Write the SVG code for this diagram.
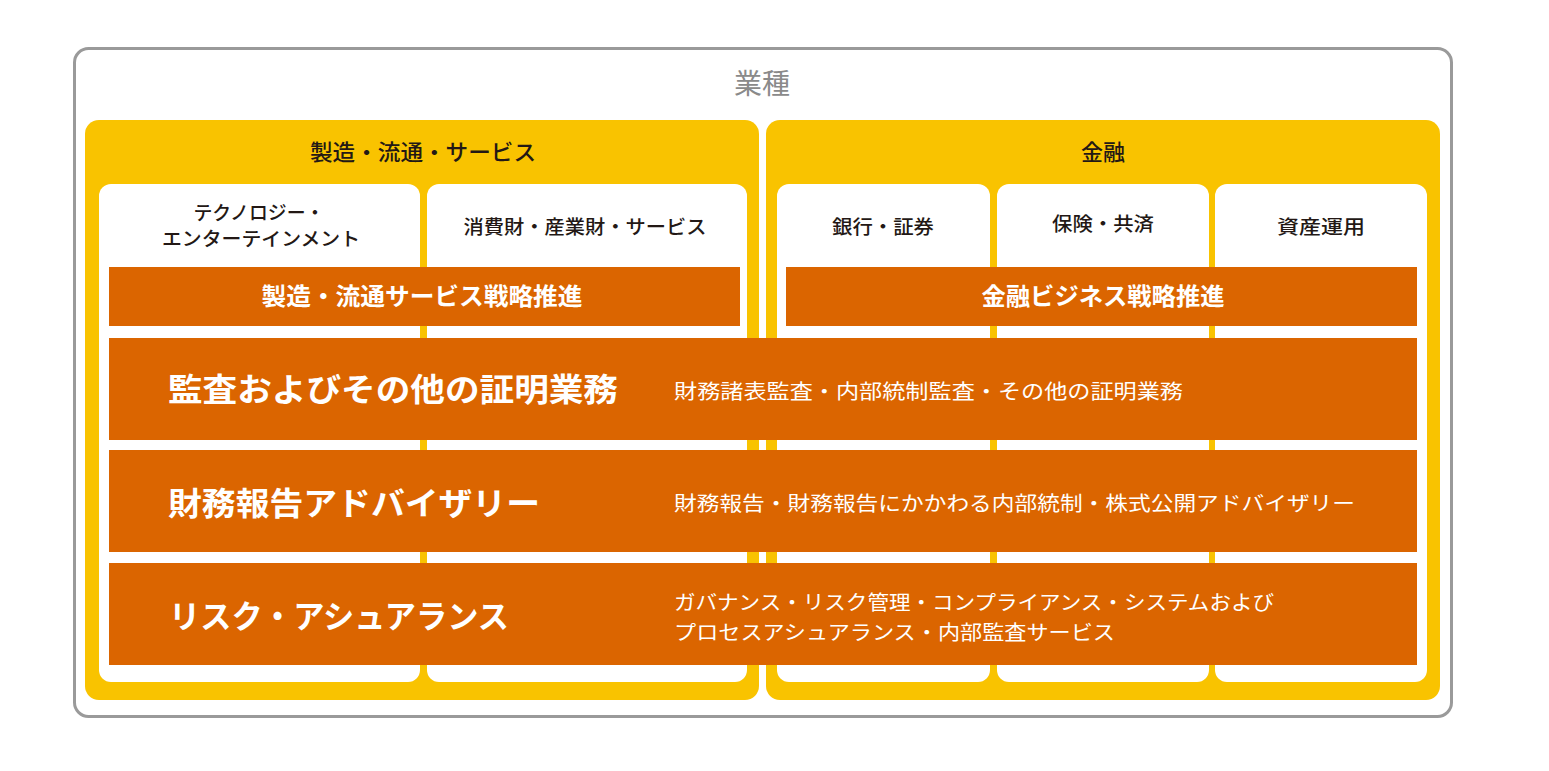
<svg xmlns="http://www.w3.org/2000/svg" width="1549" height="771" viewBox="0 0 1549 771">
<style>
.outer{fill:#fff;stroke:#9a9a9a;stroke-width:3}
.panel{fill:#f9c300}
.col{fill:#fff}
.bar{fill:#db6500}
text{font-family:"Noto Sans CJK JP","Noto Sans CJK SC",sans-serif}
.hdr{font-size:28px;fill:#8a8a8a;text-anchor:middle}
.ptitle{font-size:22px;fill:#231815;text-anchor:middle;font-weight:500}
.ctext{font-size:19px;fill:#231815;text-anchor:middle;font-weight:500}
.btitle{font-size:24px;fill:#fff;text-anchor:middle;font-weight:700}
.big{font-size:32px;fill:#fff;font-weight:700}
.desc{font-size:20px;fill:#fff}
</style>
<rect width="1549" height="771" fill="#fff"/>
<g id="industry">
<rect class="outer" x="74.5" y="48.5" width="1377" height="668" rx="14"/>
<text class="hdr" x="762" y="94">業種</text>
</g>
<g id="mfg">
<rect class="panel" x="85" y="120" width="674" height="580" rx="14"/>
<text class="ptitle" x="423" y="160" textLength="226" lengthAdjust="spacingAndGlyphs">製造・流通・サービス</text>
</g>
<g id="fin">
<rect class="panel" x="766" y="120" width="674" height="580" rx="14"/>
<text class="ptitle" x="1103" y="160">金融</text>
</g>
<g id="col-tech">
<rect class="col" x="99" y="184" width="321" height="498" rx="12"/>
<text class="ctext" x="259" y="220" textLength="131" lengthAdjust="spacingAndGlyphs">テクノロジー・</text>
<text class="ctext" x="261" y="246" textLength="198" lengthAdjust="spacingAndGlyphs">エンターテインメント</text>
</g>
<g id="col-consumer">
<rect class="col" x="427" y="184" width="320" height="498" rx="12"/>
<text class="ctext" x="585" y="234" textLength="243" lengthAdjust="spacingAndGlyphs">消費財・産業財・サービス</text>
</g>
<g id="col-bank">
<rect class="col" x="777" y="184" width="213" height="498" rx="12"/>
<text class="ctext" x="883" y="234" textLength="102" lengthAdjust="spacingAndGlyphs">銀行・証券</text>
</g>
<g id="col-insurance">
<rect class="col" x="997" y="184" width="212" height="498" rx="12"/>
<text class="ctext" x="1103" y="231" textLength="102" lengthAdjust="spacingAndGlyphs">保険・共済</text>
</g>
<g id="col-asset">
<rect class="col" x="1215" y="184" width="212" height="498" rx="12"/>
<text class="ctext" x="1321" y="234" textLength="88" lengthAdjust="spacingAndGlyphs">資産運用</text>
</g>
<g id="bar-mfg">
<rect class="bar" x="109" y="267" width="631" height="59"/>
<text class="btitle" x="422" y="305" textLength="321" lengthAdjust="spacingAndGlyphs">製造・流通サービス戦略推進</text>
</g>
<g id="bar-fin">
<rect class="bar" x="786" y="267" width="631" height="59"/>
<text class="btitle" x="1103" y="305" textLength="243" lengthAdjust="spacingAndGlyphs">金融ビジネス戦略推進</text>
</g>
<g id="svc-audit">
<rect class="bar" x="109" y="338" width="1308" height="102"/>
<text class="big" x="168" y="401" textLength="450" lengthAdjust="spacingAndGlyphs">監査およびその他の証明業務</text>
<text class="desc" x="674" y="399" textLength="509" lengthAdjust="spacingAndGlyphs">財務諸表監査・内部統制監査・その他の証明業務</text>
</g>
<g id="svc-advisory">
<rect class="bar" x="109" y="450" width="1308" height="102"/>
<text class="big" x="168" y="515" textLength="372" lengthAdjust="spacingAndGlyphs">財務報告アドバイザリー</text>
<text class="desc" x="674" y="511" textLength="681" lengthAdjust="spacingAndGlyphs">財務報告・財務報告にかかわる内部統制・株式公開アドバイザリー</text>
</g>
<g id="svc-risk">
<rect class="bar" x="109" y="563" width="1308" height="102"/>
<text class="big" x="169" y="628" textLength="340" lengthAdjust="spacingAndGlyphs">リスク・アシュアランス</text>
<text class="desc" x="674" y="610" textLength="600" lengthAdjust="spacingAndGlyphs">ガバナンス・リスク管理・コンプライアンス・システムおよび</text>
<text class="desc" x="674" y="640" textLength="441" lengthAdjust="spacingAndGlyphs">プロセスアシュアランス・内部監査サービス</text>
</g>
<g id="connectors"></g>
</svg>
